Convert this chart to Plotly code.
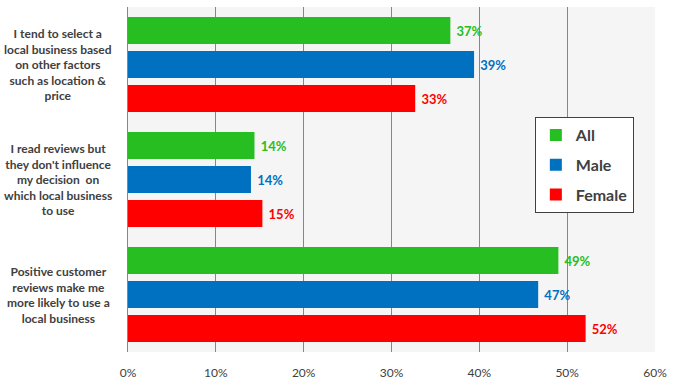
import plotly.graph_objects as go

categories = [
    "I tend to select a<br>local business based<br>on other factors<br>such as location &<br>price",
    "I read reviews but<br>they don't influence<br>my decision  on<br>which local business<br>to use",
    "Positive customer<br>reviews make me<br>more likely to use a<br>local business",
]
cat_keys = ["c1", "c2", "c3"]
series_names = ["All", "Male", "Female"]
all_vals = [36.7, 14.4, 49.0]
male_vals = [39.4, 14.0, 46.7]
female_vals = [32.7, 15.3, 52.1]
colors = ["#26BE21", "#0070C0", "#FF0000"]
x_ticks = [0, 10, 20, 30, 40, 50, 60]

FONT = "Lato, 'Liberation Sans', sans-serif"
fig = go.Figure()
for name, vals, col in zip(series_names, [all_vals, male_vals, female_vals], colors):
    fig.add_trace(go.Bar(
        y=cat_keys, x=vals, name=name, orientation="h", legendgroup=name,
        marker=dict(color=col, line=dict(width=0)),
        text=[f"\u00a0{round(v)}%" for v in vals], textposition="outside",
        textfont=dict(color=col, size=13, family=FONT, weight="bold"),
        cliponaxis=False,
    ))

for key, label in zip(cat_keys, categories):
    fig.add_annotation(
        x=-0.1328, xref="paper", y=key, yref="y", text=label, showarrow=False,
        xanchor="center", yanchor="middle", align="center",
        font=dict(size=12, color="#404040", family=FONT, weight="bold"),
    )

fig.update_layout(
    width=673, height=386,
    margin=dict(l=128, r=18, t=7, b=34),
    paper_bgcolor="white", plot_bgcolor="#F5F5F5",
    barmode="group", bargap=0.113, bargroupgap=0.206,
    showlegend=True,
    legend=dict(
        x=0.772, y=0.681, xanchor="left", yanchor="top",
        bgcolor="white", bordercolor="#404040", borderwidth=1,
        font=dict(size=16, color="#404040", family=FONT, weight="bold"),
        itemwidth=30, tracegroupgap=6,
    ),
    xaxis=dict(
        range=[0, 60], tickvals=x_ticks, ticktext=[f"{v}%" for v in x_ticks],
        showgrid=True, gridcolor="#878787", gridwidth=1,
        zeroline=False, showline=False, ticks="",
        tickfont=dict(size=12, color="#404040", family=FONT),
        ticklabelstandoff=12,
    ),
    yaxis=dict(
        autorange="reversed", showticklabels=False, ticks="",
        showline=True, linecolor="#878787", linewidth=1,
        showgrid=False,
    ),
)

fig.write_html(
    "out.html",
    config={"displayModeBar": False},
    post_script="document.body.style.margin='0';document.body.style.overflow='hidden';",
)
